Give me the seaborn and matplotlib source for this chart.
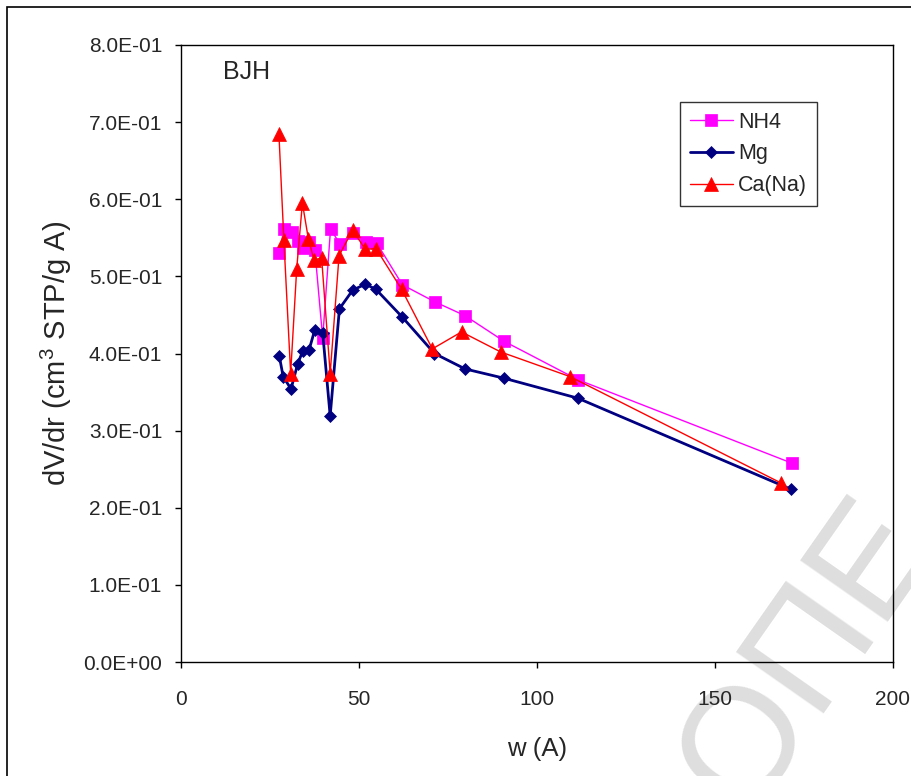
import matplotlib
matplotlib.use("Agg")
import matplotlib.pyplot as plt
import seaborn as sns
import pandas as pd
from matplotlib.patches import Rectangle

# ---- data ----
nh4_w = [27.6, 28.9, 31.1, 32.8, 34.4, 36.0, 37.6, 39.8, 42.0, 44.7, 48.2, 52.0, 55.0, 62.2, 71.3, 79.8, 90.7, 111.5, 171.5]
nh4_v = [0.530, 0.561, 0.557, 0.546, 0.537, 0.544, 0.534, 0.420, 0.561, 0.542, 0.556, 0.544, 0.543, 0.489, 0.467, 0.449, 0.416, 0.366, 0.258]

mg_w = [27.6, 28.7, 30.9, 32.8, 34.2, 36.0, 37.6, 39.8, 41.9, 44.5, 48.2, 51.8, 54.8, 62.2, 71.2, 79.8, 90.7, 111.5, 171.3]
mg_v = [0.397, 0.370, 0.354, 0.387, 0.403, 0.405, 0.431, 0.427, 0.319, 0.458, 0.482, 0.490, 0.483, 0.447, 0.400, 0.380, 0.368, 0.342, 0.224]

ca_w = [27.5, 28.9, 30.8, 32.5, 34.1, 35.8, 37.4, 39.5, 41.9, 44.4, 48.2, 51.8, 54.8, 62.0, 70.6, 78.8, 89.8, 109.3, 168.6]
ca_v = [0.685, 0.547, 0.374, 0.510, 0.595, 0.548, 0.521, 0.524, 0.374, 0.527, 0.560, 0.535, 0.536, 0.483, 0.406, 0.428, 0.402, 0.370, 0.232]

x_ticks = [0, 50, 100, 150, 200]
y_ticks = [0.0, 0.1, 0.2, 0.3, 0.4, 0.5, 0.6, 0.7, 0.8]
y_tick_labels = ["0.0E+00", "1.0E-01", "2.0E-01", "3.0E-01", "4.0E-01",
                 "5.0E-01", "6.0E-01", "7.0E-01", "8.0E-01"]

sns.set_style("white")
plt.rcParams['font.family'] = ['Liberation Sans', 'DejaVu Sans']
plt.rcParams['mathtext.default'] = 'regular'

fig = plt.figure(figsize=(9.11, 7.76), dpi=100)
ax = fig.add_axes([181/911, 1-662/776, (893-181)/911, (662-45)/776])
ax.set_facecolor('none')

# faint watermark behind the chart
fig.text(808/911, 1-655/776, "ОПЕ", rotation=55, fontsize=112, color='#dedede',
         ha='center', va='center', rotation_mode='anchor', zorder=-5)

series = [
    ("NH4", nh4_w, nh4_v, "#FF00FF", "s", 9.0, 1.0),
    ("Mg", mg_w, mg_v, "#000080", "D", 6.5, 2.0),
    ("Ca(Na)", ca_w, ca_v, "#FF0000", "^", 9.5, 1.0),
]
for name, w, v, c, m, ms, lw in series:
    df = pd.DataFrame({"w": w, "v": v})
    sns.lineplot(data=df, x="w", y="v", sort=False, estimator=None, ax=ax,
                 color=c, marker=m, markersize=ms, markeredgecolor=c,
                 markeredgewidth=0.5, linewidth=lw, label=name)

ax.set_xlim(0, 200)
ax.set_ylim(0, 0.8)
ax.set_xticks(x_ticks)
ax.set_yticks(y_ticks)
ax.set_yticklabels(y_tick_labels)
ax.tick_params(axis='both', direction='out', length=4.5, width=1, color='black',
               labelsize=15, left=True, bottom=True)
ax.tick_params(axis='y', pad=9)
ax.tick_params(axis='x', pad=16)
for s in ax.spines.values():
    s.set_color('black')
    s.set_linewidth(1.0)

ax.set_xlabel("w (A)", fontsize=18.5, labelpad=20)
ax.set_ylabel("dV/dr (cm$^3$ STP/g A)", fontsize=21, labelpad=7)

ax.text(42/712, 0.975, "BJH", transform=ax.transAxes, fontsize=18, va='top', ha='left')

leg = ax.legend(loc='upper left', bbox_to_anchor=((680-181)/712, (662-102)/617),
                frameon=True, fancybox=False, fontsize=15.5, handlelength=2.0,
                borderpad=0.45, labelspacing=0.5, handletextpad=0.25, borderaxespad=0)
leg.get_frame().set_edgecolor('black')
leg.get_frame().set_linewidth(1.0)

# outer chart border
fig.patches.append(Rectangle((7/911, -0.02), 1.1, 1 - 7/776 + 0.02, transform=fig.transFigure,
                             fill=False, edgecolor='black', linewidth=1.2))

fig.savefig("out.png", dpi=100)
